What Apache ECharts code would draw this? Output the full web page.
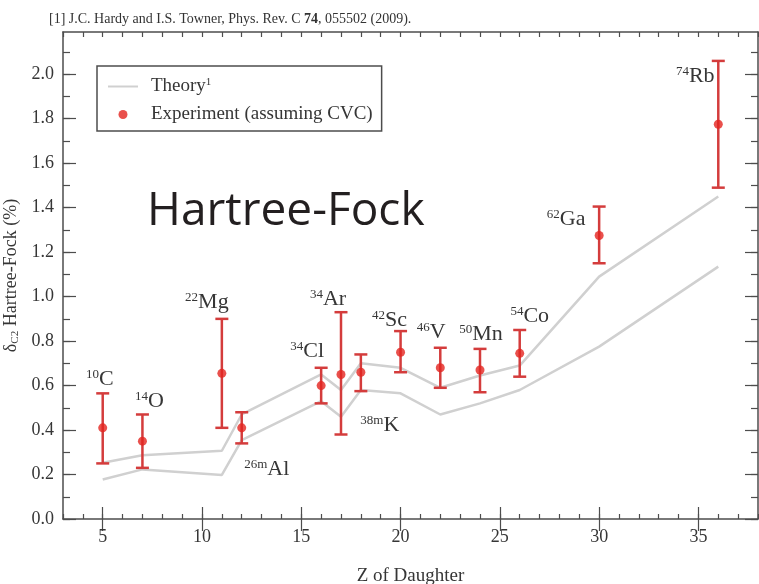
<!DOCTYPE html>
<html>
<head>
<meta charset="utf-8">
<title>Isospin-symmetry-breaking correction δC2 — Hartree-Fock</title>
<script src="https://cdn.jsdelivr.net/npm/echarts@6/dist/echarts.min.js"></script>
<style>
  html, body { margin: 0; padding: 0; background: #ffffff; }
  #chart { width: 759px; height: 584px; }
</style>
</head>
<body>
<div id="chart"></div>
<script>
// Z of the daughter nucleus for each superallowed 0+ -> 0+ emitter
const zDaughter = [5, 7, 11, 12, 16, 17, 18, 20, 22, 24, 26, 30, 36];
const isotopeMass = ['10', '14', '22', '26m', '34', '34', '38m', '42', '46', '50', '54', '62', '74'];
const isotopeElement = ['C', 'O', 'Mg', 'Al', 'Cl', 'Ar', 'K', 'Sc', 'V', 'Mn', 'Co', 'Ga', 'Rb'];

// Experimental δC2 (%) assuming CVC, with the ends of each error bar
const deltaExp = [0.41, 0.35, 0.655, 0.41, 0.60, 0.65, 0.66, 0.75, 0.68, 0.67, 0.745, 1.275, 1.775];
const errLow = [0.25, 0.23, 0.41, 0.34, 0.52, 0.38, 0.575, 0.66, 0.59, 0.57, 0.64, 1.15, 1.49];
const errHigh = [0.565, 0.47, 0.90, 0.48, 0.68, 0.93, 0.74, 0.845, 0.77, 0.765, 0.85, 1.405, 2.06];

// Hartree-Fock theory band (upper and lower edges)
const theoryUpper = [0.253, 0.287, 0.307, 0.47, 0.65, 0.58, 0.70, 0.68, 0.59, 0.645, 0.69, 1.09, 1.45];
const theoryLower = [0.178, 0.223, 0.198, 0.355, 0.53, 0.46, 0.58, 0.565, 0.47, 0.52, 0.58, 0.775, 1.135];

// Tick values
const xMajorTicks = [5, 10, 15, 20, 25, 30, 35];
const yMajorTicks = [0, 0.2, 0.4, 0.6, 0.8, 1.0, 1.2, 1.4, 1.6, 1.8, 2.0];
const yMinorTicks = [0, 0.1, 0.2, 0.3, 0.4, 0.5, 0.6, 0.7, 0.8, 0.9, 1.0, 1.1,
                     1.2, 1.3, 1.4, 1.5, 1.6, 1.7, 1.8, 1.9, 2.0, 2.1];

// Pixel offsets of each isotope label from its data point
const labelOffsets = [
  [-3, -49], [7, -40], [-15, -71], [25, 41], [-14, -34], [-13, -75], [19, 53],
  [-11, -32], [-9, -36], [1, -36], [10, -37], [-33, -16], [-23, -48]
];

const SERIF = '"Liberation Serif", "Times New Roman", serif';
const FRAME = '#4d4d4d';
const TEXT = '#363636';
const BAR_RED = '#d43c3c';
const DOT_RED = '#e3241f';
const THEORY_GREY = '#d0d0d0';

const chart = echarts.init(document.getElementById('chart'), null, { renderer: 'canvas' });

const frameLine = { show: true, onZero: false, lineStyle: { color: FRAME, width: 1.5 } };
const minorTick = { show: true, inside: true, length: 5, lineStyle: { color: FRAME, width: 1.2 } };

function xAxisDef(position, major, extra) {
  return Object.assign({
    type: 'value', min: 3, max: 38, position: position,
    axisLine: major ? { show: false } : frameLine,
    axisTick: major
      ? { show: true, inside: true, length: 12, customValues: xMajorTicks, lineStyle: { color: FRAME, width: 1.2 } }
      : minorTick,
    axisLabel: { show: false },
    splitLine: { show: false }
  }, major ? {} : { interval: 1 }, extra || {});
}

function yAxisDef(position, major, extra) {
  return Object.assign({
    type: 'value', min: 0, max: 2.19, position: position,
    axisLine: major ? { show: false } : frameLine,
    axisTick: major
      ? { show: true, inside: true, length: 13, customValues: yMajorTicks, lineStyle: { color: FRAME, width: 1.2 } }
      : { show: true, inside: true, length: 7, customValues: yMinorTicks, lineStyle: { color: FRAME, width: 1.2 } },
    axisLabel: { show: false },
    splitLine: { show: false }
  }, extra || {});
}

const option = {
  animation: false,
  backgroundColor: '#ffffff',
  title: [
    {
      text: '[1] J.C. Hardy and I.S. Towner, Phys. Rev. C {b|74}, 055502 (2009).',
      left: 49, top: 12, padding: 0,
      textStyle: {
        fontFamily: SERIF, fontSize: 14, fontWeight: 'normal', color: '#333333',
        rich: { b: { fontFamily: SERIF, fontSize: 14, fontWeight: 'bold', color: '#333333' } }
      }
    },
    {
      text: 'Hartree-Fock',
      left: 147, top: 189, padding: 0,
      textStyle: { fontFamily: '"Open Sans", "Noto Sans", sans-serif', fontSize: 46, fontWeight: 'normal', color: '#231f20' }
    }
  ],
  legend: {
    orient: 'vertical',
    left: 97, top: 66,
    padding: [11, 9, 7, 10],
    itemGap: 9,
    itemWidth: 30,
    itemHeight: 9,
    borderColor: FRAME,
    borderWidth: 1.5,
    selectedMode: false,
    data: [
      { name: 'Theory', itemStyle: { opacity: 0 } },
      { name: 'Experiment (assuming CVC)' }
    ],
    formatter: function (name) {
      return name === 'Theory' ? 'Theory{sup|1}' : name;
    },
    textStyle: {
      fontFamily: SERIF, fontSize: 19, color: TEXT, padding: [0, 0, 0, 8], lineHeight: 19,
      rich: { sup: { fontFamily: SERIF, fontSize: 11, color: TEXT, verticalAlign: 'top', lineHeight: 11 } }
    }
  },
  grid: { left: 63, right: 1, top: 32, bottom: 65, containLabel: false, outerBoundsMode: 'none' },
  xAxis: [
    xAxisDef('bottom', false, {
      axisLabel: { show: true, customValues: xMajorTicks, margin: 9, fontFamily: SERIF, fontSize: 18, color: TEXT },
      name: 'Z of Daughter', nameLocation: 'middle', nameGap: 48,
      nameTextStyle: { fontFamily: SERIF, fontSize: 19, color: TEXT }
    }),
    xAxisDef('bottom', true),
    xAxisDef('top', false),
    xAxisDef('top', true)
  ],
  yAxis: [
    yAxisDef('left', false, {
      axisLabel: {
        show: true, customValues: yMajorTicks, margin: 9, fontFamily: SERIF, fontSize: 18, color: TEXT,
        formatter: function (v) { return v.toFixed(1); }
      },
      name: 'δ{sub|C2} Hartree-Fock (%)', nameLocation: 'middle', nameGap: 42,
      nameTextStyle: {
        fontFamily: SERIF, fontSize: 18, color: TEXT,
        rich: { sub: { fontFamily: SERIF, fontSize: 11, color: TEXT, verticalAlign: 'bottom', lineHeight: 11 } }
      }
    }),
    yAxisDef('left', true),
    yAxisDef('right', false),
    yAxisDef('right', true)
  ],
  series: [
    {
      name: 'Theory', type: 'line', xAxisIndex: 0, yAxisIndex: 0,
      data: zDaughter.map((z, i) => [z, theoryUpper[i]]),
      symbol: 'none', lineStyle: { color: THEORY_GREY, width: 2.5 }, itemStyle: { color: THEORY_GREY },
      z: 1
    },
    {
      name: 'Theory', type: 'line', xAxisIndex: 0, yAxisIndex: 0,
      data: zDaughter.map((z, i) => [z, theoryLower[i]]),
      symbol: 'none', lineStyle: { color: THEORY_GREY, width: 2.5 }, itemStyle: { color: THEORY_GREY },
      z: 1
    },
    {
      name: 'Error bars', type: 'custom', xAxisIndex: 0, yAxisIndex: 0,
      data: zDaughter.map((z, i) => [z, errLow[i], errHigh[i], deltaExp[i]]),
      encode: { x: 0, y: [1, 2] },
      z: 2,
      renderItem: function (params, api) {
        const i = params.dataIndex;
        const z = api.value(0);
        const lo = api.coord([z, api.value(1)]);
        const hi = api.coord([z, api.value(2)]);
        const mid = api.coord([z, api.value(3)]);
        const cap = 6.5;
        const style = { stroke: BAR_RED, lineWidth: 2.5, fill: null };
        const off = labelOffsets[i];
        return {
          type: 'group',
          children: [
            { type: 'line', shape: { x1: lo[0], y1: lo[1], x2: hi[0], y2: hi[1] }, style: style },
            { type: 'line', shape: { x1: hi[0] - cap, y1: hi[1], x2: hi[0] + cap, y2: hi[1] }, style: style },
            { type: 'line', shape: { x1: lo[0] - cap, y1: lo[1], x2: lo[0] + cap, y2: lo[1] }, style: style },
            {
              type: 'text',
              x: mid[0] + off[0],
              y: mid[1] + off[1],
              style: {
                text: '{m|' + isotopeMass[i] + '}{e|' + isotopeElement[i] + '}',
                align: 'center',
                verticalAlign: 'middle',
                rich: {
                  m: { fontFamily: SERIF, fontSize: 13, fill: TEXT, verticalAlign: 'top', lineHeight: 13 },
                  e: { fontFamily: SERIF, fontSize: 22, fill: TEXT, lineHeight: 22 }
                }
              }
            }
          ]
        };
      }
    },
    {
      name: 'Experiment (assuming CVC)', type: 'scatter', xAxisIndex: 0, yAxisIndex: 0,
      data: zDaughter.map((z, i) => [z, deltaExp[i]]),
      symbol: 'circle', symbolSize: 9,
      itemStyle: { color: DOT_RED },
      z: 3
    }
  ]
};

chart.setOption(option);
</script>
</body>
</html>
